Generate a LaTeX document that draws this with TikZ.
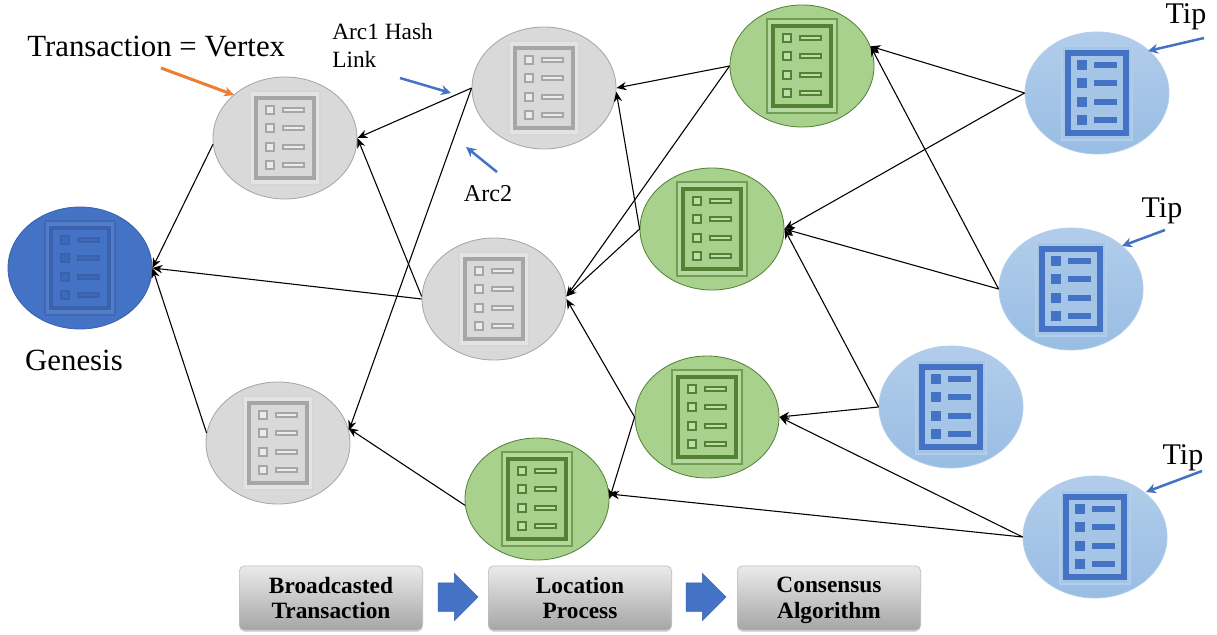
\documentclass[tikz,border=0pt]{standalone}
\usepackage{fontspec}
\setmainfont{Liberation Serif}
\usetikzlibrary{arrows.meta,shapes.geometric,shapes.arrows,shadows}
\definecolor{clrgray}{HTML}{D9D9D9}
\definecolor{clrgrayline}{HTML}{A6A6A6}
\definecolor{clrgreen}{HTML}{A9D18E}
\definecolor{clrgreenline}{HTML}{548235}
\definecolor{clrgenesis}{HTML}{4472C4}
\definecolor{clrgenesisline}{HTML}{3A62AC}
\definecolor{clrtiptop}{HTML}{B2CDEA}
\definecolor{clrtipbot}{HTML}{98BDE4}
\definecolor{clrtip}{HTML}{A5C5E7}
\definecolor{clrorange}{HTML}{ED7D31}
\tikzset{
    vertex/.style={ellipse, inner sep=0pt, minimum width=86.4pt, minimum height=73.2pt},
    grayvtx/.style={vertex, fill=clrgray, draw=clrgrayline, line width=.5pt},
    greenvtx/.style={vertex, fill=clrgreen, draw=clrgreenline, line width=.5pt},
    genesisvtx/.style={vertex, fill=clrgenesis, draw=clrgenesisline, line width=.5pt},
    tipvtx/.style={vertex, top color=clrtiptop, bottom color=clrtipbot, draw=clrtiptop, line width=.5pt},
    link/.style={-{Stealth[length=6pt,width=5pt]}, line width=.65pt},
    pointer/.style={-{Stealth[length=6pt,width=6pt]}, line width=1.5pt, clrgenesis},
    stagebox/.style={rounded corners=3pt, minimum width=110pt, minimum height=38.5pt, inner sep=0pt,
        top color=black!8, bottom color=black!35, draw=black!25, line width=.4pt, drop shadow={opacity=.3, shadow xshift=0pt, shadow yshift=-1pt},
        align=center, font=\fontsize{14}{15.5}\selectfont\bfseries},
    stagearrow/.style={single arrow, fill=clrgenesis, draw=clrgenesis!85!black, line width=.3pt, inner xsep=0pt, inner ysep=8.4pt, minimum width=28pt, minimum height=24pt,
        single arrow head extend=5.7pt, single arrow head indent=0pt},
    pics/docicon/.style n args={6}{code={
        \fill[#4, draw=#6, line width=.8pt] (-35,-47) rectangle (35,47);
        \fill[#3, draw=#1, line width=#5] (-29,-40) rectangle (29,40);
        \foreach \row in {-28,-10,9,27} {
            \fill[#2, draw=#1, line width=1.5pt] (-19,\row-4) rectangle (-11,\row+4);
            \fill[#2, draw=#1, line width=1.5pt] (-2,\row-2) rectangle (19,\row+2);
        }
    }}
}

\begin{document}
\begin{tikzpicture}[x=.6pt, y=-.6pt]
    \useasboundingbox (0,0) rectangle (1217,635);

    % vertices
    \node[genesisvtx] (genesis) at (80,268) {};
    \pic at (80,268) {docicon={clrgenesisline}{clrgenesis!92!black}{clrgenesis}{clrgenesis!92!white}{2.2pt}{clrgenesis!92!black}};
    \foreach \name/\x/\y in {gray1/285/138, gray2/544/88, gray3/494/299, gray4/278/443} {
        \node[grayvtx] (\name) at (\x,\y) {};
        \pic at (\x,\y) {docicon={clrgrayline}{black!8}{clrgray}{black!11}{2.2pt}{black!16}};
    }
    \foreach \name/\x/\y in {green1/802/66, green2/712/229, green3/707/417, green4/537/499} {
        \node[greenvtx] (\name) at (\x,\y) {};
        \pic at (\x,\y) {docicon={clrgreenline}{clrgreen!75!white}{clrgreen}{clrgreen!85!white}{2.2pt}{clrgreenline!65!clrgreen}};
    }
    \foreach \name/\x/\y in {tip1/1097/93, tip2/1071/289, tip3/951/407, tip4/1095/537} {
        \node[tipvtx] (\name) at (\x,\y) {};
        \pic at (\x,\y) {docicon={clrgenesis}{clrgenesis}{clrtip}{clrtip}{3.6pt}{clrtiptop}};
    }

    % hash links
    \foreach \from/\to in {gray1.185/genesis.0, gray3.180/genesis.0, gray4.172/genesis.0,
                           gray2.180/gray1.0, gray3.178/gray1.0, gray2.180/gray4.10,
                           green1.180/gray2.0, green1.180/gray3.2, green2.180/gray2.-3, green2.180/gray3.2,
                           green3.180/gray3.0, green3.180/green4.0, green4.185/gray4.12,
                           tip1.180/green1.16, tip1.180/green2.0, tip2.180/green2.0, tip2.180/green1.16,
                           tip3.180/green2.0, tip3.180/green3.0, tip4.180/green3.0, tip4.180/green4.4} {
        \draw[link] (\from) -- (\to);
    }

    % pointers
    \foreach \i/\xa/\ya/\xb/\yb in {1/400/78/451/93, 2/497/172/466/147, 3/1204/38/1148/51, 4/1165/230/1122/246, 5/1202/471/1146/492} {
        \coordinate (ptr\i a) at (\xa,\ya);
        \coordinate (ptr\i b) at (\xb,\yb);
        \draw[pointer] (ptr\i a) -- (ptr\i b);
    }
    \coordinate (ptr0a) at (161,68);
    \coordinate (ptr0b) at (234,95);
    \draw[pointer, clrorange, line width=1.8pt] (ptr0a) -- (ptr0b);

    % labels
    \node[anchor=west, inner sep=0pt, font=\fontsize{18.5}{20}\selectfont] (vertexlbl) at (27,47) {Transaction = Vertex};
    \node[anchor=north west, align=left, inner sep=0pt, font=\fontsize{14}{17}\selectfont] (arclbl) at (332,23) {Arc1 Hash\\Link};
    \node[font=\fontsize{14.5}{17}\selectfont] (arctwolbl) at (488,194) {Arc2};
    \node[font=\fontsize{18.5}{20}\selectfont] (genesislbl) at (74,360) {Genesis};
    \node[font=\fontsize{18}{20}\selectfont] (tiplbl1) at (1186,17) {Tip};
    \node[font=\fontsize{18}{20}\selectfont] (tiplbl2) at (1162,211) {Tip};
    \node[font=\fontsize{18}{20}\selectfont] (tiplbl3) at (1183,458) {Tip};

    % stages
    \node[stagebox] (stage1) at (331,598) {Broadcasted\\Transaction};
    \node[stagebox] (stage2) at (580,598) {Location\\Process};
    \node[stagebox] (stage3) at (829,598) {Consensus\\\smash{Algorithm}};
    \node[stagearrow] (stagearrow1) at (451,597) {};
    \node[stagearrow] (stagearrow2) at (699,597) {};
\end{tikzpicture}
\end{document}
